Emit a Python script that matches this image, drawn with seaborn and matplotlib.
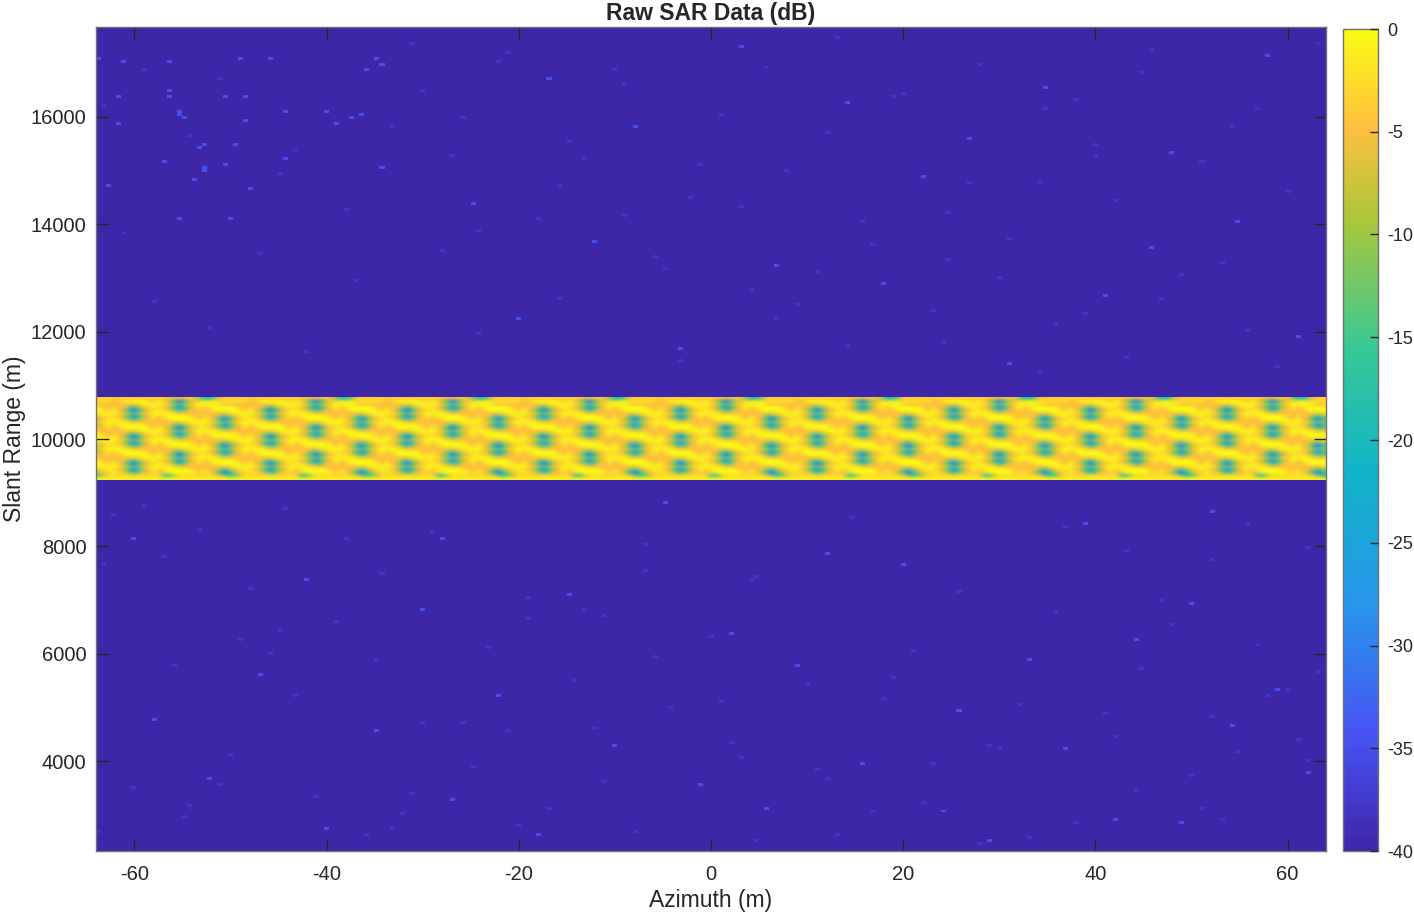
import numpy as np
import seaborn as sns
import matplotlib
matplotlib.use("Agg")
import matplotlib.pyplot as plt
from matplotlib.colors import LinearSegmentedColormap

sns.set_style("white")
plt.rcParams["font.family"] = ["Liberation Sans", "DejaVu Sans"]

# Axis ranges
az_min, az_max = -64, 64
range_top, range_bottom = 17677, 2323
az_ticks = [-60, -40, -20, 0, 20, 40, 60]
range_ticks = [4000, 6000, 8000, 10000, 12000, 14000, 16000]
cbar_ticks = [-40, -35, -30, -25, -20, -15, -10, -5, 0]
floor_db = -40

# One repeat of the bright band in dB (it repeats 9 times across azimuth)
band_tile = [
    [-4, -4, -4, -4, -4, -4, -4, -4, -4, -4, -4, -4, -4, -4, -5, -6, -7, -5, -4, -6, -12, -20, -20, -12, -5, -4, -4],
    [-2, -2, -2, -5, -4, -1, 0, 0, 0, 0, -2, -4, -1, -4, -9, -18, -33, -18, -9, -4, -3, -1, -1, -1, -2, -2, -2],
    [-5, -5, -5, -5, -5, -5, -5, -5, -3, -1, 0, -1, 0, -3, -5, -10, -14, -10, -5, -3, 0, -1, 0, -1, -3, -5, -5],
    [-1, -4, -5, -3, -5, -5, -12, -16, -10, -5, -3, -1, -3, -4, -9, -18, -30, -18, -9, -4, -1, -4, -2, 0, 0, 0, 0],
    [0, -2, -4, -1, -4, -9, -18, -33, -18, -9, -4, -3, -1, -3, -5, -10, -16, -12, -5, -5, -3, -5, -4, -1, 0, 0, 0],
    [-1, 0, -1, 0, -3, -5, -10, -14, -10, -5, -3, 0, -1, 0, -1, -3, -5, -5, -5, -5, -5, -5, -5, -5, -5, -5, -3],
    [-5, -3, -1, -3, -4, -9, -18, -30, -18, -9, -4, -1, -4, -2, 0, 0, 0, 0, -1, -4, -5, -3, -5, -5, -12, -16, -10],
    [-9, -4, -3, -1, -3, -5, -10, -16, -12, -5, -5, -3, -5, -4, -1, 0, 0, 0, 0, -2, -4, -1, -4, -9, -18, -33, -18],
    [-5, -3, 0, -1, 0, -1, -3, -5, -5, -5, -5, -5, -5, -5, -5, -5, -5, -3, -1, 0, -1, 0, -3, -5, -10, -14, -10],
    [-9, -4, -1, -4, -2, 0, 0, 0, 0, -1, -4, -5, -3, -5, -5, -12, -16, -10, -5, -3, -1, -3, -4, -9, -18, -30, -18],
    [-5, -5, -3, -5, -4, -1, 0, 0, 0, 0, -2, -4, -1, -4, -9, -18, -33, -18, -9, -4, -3, -1, -3, -5, -10, -16, -12],
    [-5, -5, -5, -5, -5, -5, -5, -5, -3, -1, 0, -1, 0, -3, -5, -10, -14, -10, -5, -3, 0, -1, 0, -1, -3, -5, -5],
    [-1, -4, -5, -3, -5, -5, -12, -16, -10, -5, -3, -1, -3, -4, -9, -18, -30, -18, -9, -4, -1, -4, -2, 0, 0, 0, 0],
    [0, -2, -4, -1, -4, -9, -18, -33, -18, -9, -4, -3, -1, -3, -5, -10, -16, -12, -5, -5, -3, -5, -4, -1, 0, 0, 0],
    [-1, 0, -1, 0, -3, -5, -10, -14, -10, -5, -3, 0, -1, 0, -1, -3, -5, -5, -5, -5, -5, -5, -5, -5, -5, -5, -3],
    [-5, -3, -1, -3, -4, -9, -18, -30, -18, -9, -4, -1, -4, -2, 0, 0, 0, 0, -1, -4, -5, -3, -5, -5, -12, -16, -10],
    [-9, -4, -3, -1, -3, -5, -10, -16, -12, -5, -5, -3, -5, -4, -1, 0, 0, 0, 0, -2, -4, -1, -4, -9, -18, -33, -18],
    [-5, -3, 0, -1, 0, -1, -3, -5, -5, -5, -5, -5, -5, -5, -5, -5, -5, -3, -1, 0, -1, 0, -3, -5, -10, -14, -10],
    [-9, -4, -1, -4, -2, 0, 0, 0, 0, -1, -4, -5, -3, -5, -5, -12, -16, -10, -5, -3, -1, -3, -4, -9, -18, -30, -18],
    [-5, -5, -3, -5, -4, -1, 0, 0, 0, 0, -2, -4, -1, -4, -9, -18, -33, -18, -9, -4, -3, -1, -3, -5, -10, -16, -12],
    [-5, -5, -5, -5, -5, -5, -5, -5, -3, -1, 0, -1, 0, -3, -5, -10, -14, -10, -5, -3, 0, -1, 0, -1, -3, -5, -5],
    [-1, -4, -5, -3, -5, -5, -12, -16, -10, -5, -3, -1, -3, -4, -9, -18, -30, -18, -9, -4, -1, -4, -2, 0, 0, 0, 0],
    [0, -2, -4, -1, -4, -9, -18, -33, -18, -9, -4, -3, -1, -3, -5, -10, -16, -12, -5, -5, -3, -5, -4, -1, 0, 0, 0],
    [-1, 0, -1, 0, -3, -5, -10, -14, -10, -5, -3, 0, -1, 0, -1, -3, -5, -5, -5, -5, -5, -5, -5, -5, -5, -5, -3],
    [-5, -3, -1, -3, -4, -9, -18, -30, -18, -9, -4, -1, -4, -2, 0, 0, 0, 0, -1, -4, -5, -3, -5, -5, -12, -16, -10],
    [-9, -4, -3, -1, -3, -5, -10, -16, -12, -5, -5, -3, -5, -4, -1, 0, 0, 0, 0, -2, -4, -1, -4, -9, -18, -33, -18],
    [-14, -8, -3, -3, -3, -3, -3, -3, -3, -3, -3, -3, -3, -16, -18, -8, -3, -3, -3, -3, -3, -3, -3, -3, -5, -12, -18],
    [-1, -1, -1, -1, -1, -1, -1, -1, -1, -1, -1, -1, -1, -1, -1, -1, -1, -1, -1, -1, -1, -1, -1, -1, -1, -1, -1],
]
tile_repeats = 9
rows_above_band = 125
rows_below_band = 125

# Brighter specks in the noise floor
bright_az = [-63.8, -61.2, -56.5, -49, -46, -34.8, -34, -36, -56.2, -61.5, -56.2, -50.7, -48.2, -55.3, -55.4,
             -55, -44.5, -40, -48.5, -61.7, -37.5, -36.2, -39.2, -53.2, -52.5, -49.5, -57, -44.5, -52.7, -52.5,
             -50.5, -53.8, -62.5, -47.7, -55.5, -50.2, -34.4, -17, -8, 3, 14, 22, 35, 48, 58, -25, -12, 7, 27, 41,
             55, -20, -3, 18, 31, 46, 61, -28, -5, 12, 39, 52, -60, -42, -30, -15, 2, 20, 33, 50, -47, -22, 9, 26,
             44, 59, -58, -35, -10, 16, 37, 54, -52, -27, -1, 24, 42, 62, -40, -18, 6, 29, 49]
bright_range = [17075, 17025, 17056, 17087, 17075, 17075, 17006, 16857, 16497, 16404, 16404, 16367, 16354, 16106, 16031,
                15990, 16106, 16106, 15957, 15907, 15982, 16031, 15907, 15435, 15491, 15472, 15174, 15212, 15069, 15007,
                15100, 14820, 14727, 14653, 14131, 14131, 15063, 16700, 15800, 17300, 16250, 14900, 16550, 15350, 17150, 14400,
                13700, 13250, 15600, 12700, 14050, 12250, 11700, 12900, 11400, 13550, 11900, 8150, 8800, 7900, 8450, 8650, 8130,
                7350, 6800, 7100, 6400, 7650, 5900, 6950, 5600, 5200, 5750, 4950, 6250, 5350, 4800, 4550, 4300, 3950, 4250, 4650,
                3700, 3300, 3550, 3050, 2900, 3800, 2750, 2600, 3150, 2500, 2850]

# Fainter specks, same idea
faint_az = [-63, -59, -54, -51, -45, -43, -38, -33, -31, -26, -24, -21, -16, -13, -9, -6, -2, 1, 4, 8, 11, 13, 17, 19,
            23, 25, 28, 30, 34, 36, 38, 40, 43, 45, 47, 51, 53, 56, 57, 60, 63, -62, -57, -53, -48, -44, -39, -34, -29,
            -23, -19, -14, -11, -7, -4, 0, 5, 10, 15, 21, 26, 32, 37, 42, 48, 52, 58, 62, -60, -55, -50, -41, -36, -30,
            -25, -17, -8, 2, 12, 22, 33, 44, 55, -56, -46, -32, -20, -12, 3, 18, 28, 41, 50, 61,
            -30, -27, -22, -18, -15, -10, -5, -1, 3, 6, 9, 12, 16, 20, 24, 27, 31, 35, 39, 42, 46, 49, 54, 59,
            -61, -58, -52, -47, -42, -37, -28, -24, -16, -9, -3, 7, 14, 25, 34, 40, 47, 56, 63, -63, -49, -38,
            -26, -13, -6, 4, 11, 19, 30, 36, 43, 51, 57, 60, -59, -45, -33, -21, -11, 1, 13, 23, 38, 52,
            -54, -43, -31, -19, -7, 5, 17, 29, 45, 53, 62, -64, -51, -35, -23, -14, -2, 8, 21, 32, 46, 58]
faint_range = [16200, 16900, 15650, 16700, 14950, 15400, 14300, 15800, 17400, 16000, 13900, 17200, 14700, 15200, 16600, 13400,
               14500, 16050, 12800, 15000, 13100, 17500, 13600, 16400, 12400, 14200, 17000, 13000, 14800, 12100, 16300, 15500,
               11500, 16800, 12600, 15150, 13300, 12000, 16150, 14600, 17350, 8600, 7800, 8300, 7200, 8700, 6600, 7500,
               8250, 6100, 7050, 5500, 6700, 8050, 5000, 6350, 7450, 5450, 8550, 6050, 7150, 5050, 8350, 4450, 6550,
               7750, 5250, 8000, 3500, 2950, 4100, 3350, 2650, 4700, 3900, 3100, 2700, 4350, 3650, 3250, 2550, 3450, 4150,
               5800, 6000, 3000, 2800, 4600, 4050, 5150, 2450, 4900, 3750, 4400,
               16500, 15250, 17050, 14100, 15550, 16850, 13200, 15100, 14350, 16950, 12500, 15700, 14050, 16450, 11800, 14750,
               13750, 16150, 12350, 14450, 17250, 13050, 15850, 11350,
               13850, 12550, 12050, 13450, 11650, 12950, 13500, 11950, 12650, 14150, 11450, 12250, 11750, 13350, 11250, 15300,
               7000, 8450, 5650, 7650, 6250, 8150, 4750, 6850, 5950, 7350, 3850, 5550, 4250, 6750, 7950, 3150, 6150, 5350, 8750, 6450,
               2750, 4550, 3600, 5100, 2600, 3950, 2850, 4850, 3200, 5250, 3400, 6650, 7550, 2500, 3050, 4300, 5700, 2900, 4000, 2700, 3550, 5900]
bright_db = -35
faint_db = -38

# Parula style colormap, anchors
cmap_anchors = [(0.00, (0.2422, 0.1504, 0.6603)),
                (0.14, (0.2810, 0.3228, 0.9579)),
                (0.30, (0.1540, 0.5902, 0.9218)),
                (0.46, (0.0641, 0.7050, 0.7847)),
                (0.61, (0.2161, 0.7843, 0.5923)),
                (0.77, (0.6720, 0.7793, 0.2227)),
                (0.88, (0.9970, 0.7459, 0.2399)),
                (1.00, (0.9769, 0.9839, 0.0805))]
parula = LinearSegmentedColormap.from_list("parula", cmap_anchors)

# Build the full image
band = np.tile(np.array(band_tile, dtype=float), (1, tile_repeats))
n_cols = band.shape[1]
n_rows = rows_above_band + band.shape[0] + rows_below_band
image = np.full((n_rows, n_cols), float(floor_db))
image[rows_above_band:rows_above_band + band.shape[0], :] = band


def col_of(az):
    return (az - az_min) / (az_max - az_min) * n_cols


def row_of(rng):
    return (range_top - rng) / (range_top - range_bottom) * n_rows


for a, r in zip(faint_az, faint_range):
    image[int(row_of(r)), int(col_of(a))] = faint_db
for a, r in zip(bright_az, bright_range):
    image[int(row_of(r)), int(col_of(a))] = bright_db

fig = plt.figure(figsize=(14.14, 9.13), dpi=100)
ax = fig.add_axes([96 / 1414, (913 - 851) / 913, 1230 / 1414, 824 / 913])
cax = fig.add_axes([1343 / 1414, (913 - 851) / 913, 35 / 1414, 822 / 913])

sns.heatmap(image, ax=ax, cbar_ax=cax, cmap=parula, vmin=floor_db, vmax=0,
            xticklabels=False, yticklabels=False, rasterized=True)

# band drawn again with smoothing so cells do not look blocky
ax.imshow(band, cmap=parula, vmin=floor_db, vmax=0, aspect="auto", interpolation="bicubic",
          extent=(0, n_cols, rows_above_band + band.shape[0], rows_above_band), zorder=1.5)
ax.set_xlim(0, n_cols)
ax.set_ylim(n_rows, 0)
ax.set_axisbelow(False)

ax.set_xticks([col_of(v) for v in az_ticks])
ax.set_xticklabels([str(v) for v in az_ticks], fontsize=14.5)
ax.set_yticks([row_of(v) for v in range_ticks])
ax.set_yticklabels([str(v) for v in range_ticks], fontsize=14.5, rotation=0)
ax.tick_params(axis="both", direction="in", length=9, width=1, color="#262626",
               labelcolor="#262626", top=True, right=True, bottom=True, left=True)
ax.tick_params(axis="x", pad=10)
ax.tick_params(axis="y", pad=7)
for s in ax.spines.values():
    s.set_visible(True)
    s.set_color("#707070")
    s.set_linewidth(1)
    s.set_zorder(5)

ax.set_xlabel("Azimuth (m)", fontsize=16.5, color="#262626", labelpad=4)
ax.set_ylabel("Slant Range (m)", fontsize=16.5, color="#262626", labelpad=3)
ax.set_title("Raw SAR Data (dB)", fontsize=16.5, fontweight="bold", color="#262626", pad=5)

cb = ax.collections[0].colorbar
cb.set_ticks(cbar_ticks)
cb.set_ticklabels([str(v) for v in cbar_ticks])
cax.set_axisbelow(False)
cax.tick_params(direction="in", length=6, width=1, color="#262626", labelcolor="#262626",
                labelsize=13, right=True, left=False, pad=7)
cb.outline.set_visible(True)
cb.outline.set_edgecolor("#707070")
cb.outline.set_linewidth(1)

fig.savefig("out.png", dpi=100)
